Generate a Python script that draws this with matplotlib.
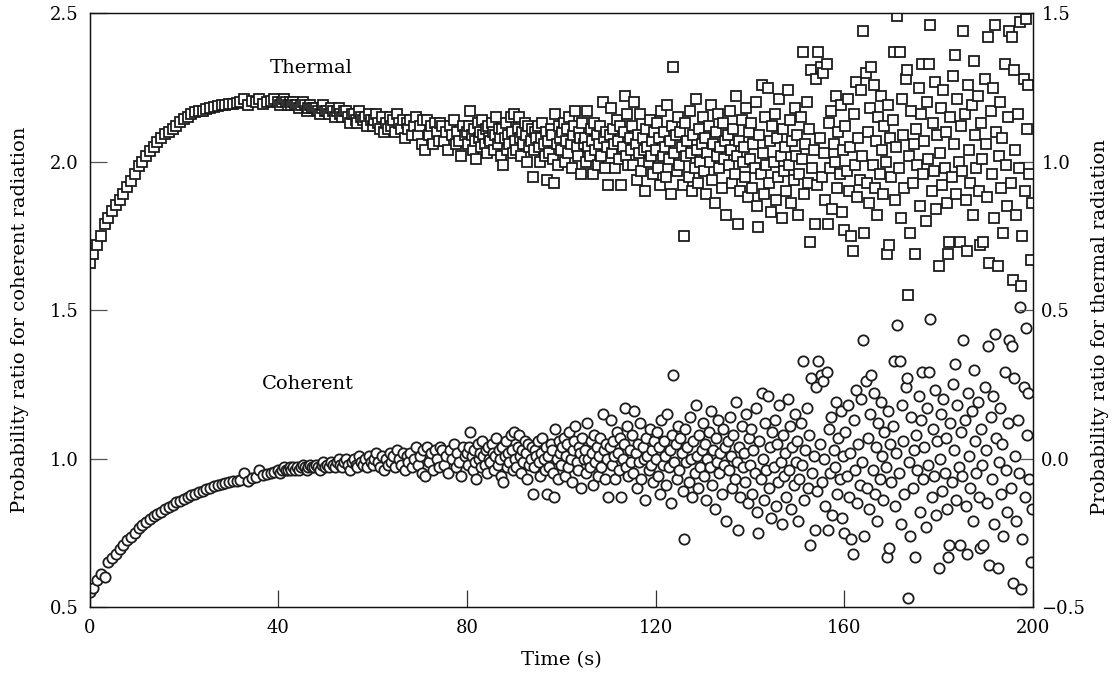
import numpy as np
import matplotlib
matplotlib.use("Agg")
import matplotlib.pyplot as plt

plt.rcParams['font.family'] = ['DejaVu Serif']

# ---- data ----
# coherent ratio, left axis; thermal ratio, right axis
# early part: 0 - 39.2 s, every 0.8 s
coh_a = [0.55, 0.565, 0.59, 0.61, 0.60, 0.65, 0.665, 0.68, 0.695, 0.71,
         0.725, 0.735, 0.75, 0.765, 0.775, 0.785, 0.795, 0.805, 0.812, 0.82,
         0.83, 0.838, 0.845, 0.852, 0.858, 0.865, 0.87, 0.876, 0.882, 0.887,
         0.892, 0.897, 0.902, 0.906, 0.912, 0.915, 0.918, 0.921, 0.924, 0.926,
         0.928, 0.95, 0.925, 0.935, 0.938, 0.96, 0.945, 0.948, 0.951, 0.955]
thr_a = [0.66, 0.69, 0.72, 0.75, 0.79, 0.81, 0.835, 0.855, 0.87, 0.89,
         0.915, 0.935, 0.96, 0.985, 1.0, 1.02, 1.035, 1.05, 1.065, 1.08,
         1.095, 1.10, 1.11, 1.12, 1.135, 1.145, 1.15, 1.16, 1.167, 1.17,
         1.172, 1.176, 1.18, 1.184, 1.187, 1.19, 1.192, 1.194, 1.196, 1.198,
         1.20, 1.212, 1.19, 1.205, 1.20, 1.21, 1.195, 1.20, 1.205, 1.21]

# middle part: 40 - 79.6 s, every 0.4 s
coh_b = [0.96, 0.95, 0.96, 0.97, 0.96, 0.96, 0.97, 0.96, 0.97, 0.96,
         0.97, 0.96, 0.97, 0.98, 0.97, 0.96, 0.97, 0.98, 0.97, 0.97,
         0.98, 0.97, 0.96, 0.98, 0.99, 0.97, 0.98, 0.97, 0.99, 0.98,
         0.97, 0.99, 1.00, 0.98, 0.97, 0.99, 1.00, 0.98, 0.96, 0.99,
         1.00, 0.98, 0.97, 1.01, 0.99, 0.98, 1.00, 0.97, 1.01, 0.99,
         0.98, 1.00, 1.02, 0.99, 0.97, 1.01, 0.96, 1.00, 0.98, 1.02,
         0.99, 1.01, 0.97, 1.03, 1.00, 0.98, 1.02, 0.96, 1.01, 0.99,
         1.02, 0.97, 1.00, 1.04, 0.98, 1.01, 0.95, 1.03, 0.94, 1.04,
         0.99, 1.02, 0.96, 1.03, 1.00, 0.97, 1.04, 1.03, 0.98, 1.01,
         0.95, 1.03, 1.00, 1.05, 0.97, 1.02, 0.99, 0.94, 1.04, 1.01]
thr_b = [1.20, 1.19, 1.20, 1.21, 1.20, 1.19, 1.20, 1.19, 1.20, 1.19,
         1.19, 1.18, 1.19, 1.20, 1.19, 1.17, 1.18, 1.19, 1.18, 1.18,
         1.18, 1.17, 1.16, 1.18, 1.19, 1.17, 1.17, 1.16, 1.18, 1.17,
         1.15, 1.17, 1.18, 1.16, 1.15, 1.17, 1.17, 1.15, 1.13, 1.16,
         1.16, 1.14, 1.13, 1.17, 1.15, 1.14, 1.15, 1.12, 1.16, 1.14,
         1.12, 1.14, 1.16, 1.13, 1.11, 1.15, 1.10, 1.13, 1.11, 1.15,
         1.12, 1.14, 1.10, 1.16, 1.13, 1.11, 1.14, 1.08, 1.13, 1.11,
         1.14, 1.09, 1.12, 1.15, 1.09, 1.12, 1.06, 1.14, 1.04, 1.14,
         1.09, 1.12, 1.06, 1.13, 1.10, 1.07, 1.13, 1.12, 1.07, 1.10,
         1.04, 1.12, 1.09, 1.14, 1.06, 1.10, 1.07, 1.02, 1.12, 1.09]

# late part: 80 - 199.75 s, every 0.25 s (one row = 5 s)
coh_c = [1.02, 0.98, 1.04, 1.09, 1.01, 0.96, 1.03, 0.99, 0.93, 1.05, 1.00, 1.02, 0.97, 1.06, 1.01, 0.98, 1.03, 0.95, 1.04, 1.00,
         0.99, 1.05, 1.02, 0.96, 1.01, 1.07, 0.98, 1.03, 1.00, 0.94, 1.04, 0.92, 1.01, 1.06, 0.97, 1.02, 0.99, 1.08, 1.03, 0.96,
         1.09, 1.00, 0.97, 1.04, 1.08, 1.01, 0.95, 1.03, 0.99, 1.06, 1.02, 0.93, 1.05, 0.98, 1.00, 1.04, 0.88, 0.97, 1.03, 1.01,
         1.06, 0.99, 0.94, 1.02, 1.07, 1.00, 0.96, 1.04, 0.88, 1.01, 0.97, 1.05, 1.03, 0.95, 0.87, 1.10, 1.00, 0.93, 1.06, 1.02,
         0.98, 1.04, 1.07, 0.94, 1.01, 1.05, 0.97, 1.09, 1.00, 0.92, 1.03, 1.06, 1.11, 0.99, 0.96, 1.04, 1.02, 0.90, 1.07, 1.00,
         1.03, 0.95, 1.12, 1.00, 0.97, 1.06, 1.02, 0.91, 1.08, 0.99, 1.04, 0.94, 1.01, 1.07, 0.97, 1.15, 1.03, 0.93, 1.05, 1.00,
         0.87, 1.04, 1.13, 0.98, 1.06, 1.01, 0.93, 1.09, 1.02, 0.96, 1.07, 0.87, 1.00, 1.05, 1.17, 0.97, 1.11, 0.94, 1.03, 0.99,
         1.08, 0.95, 1.16, 1.02, 0.90, 1.05, 0.99, 1.12, 0.93, 1.04, 1.00, 0.86, 1.07, 1.01, 0.96, 1.10, 0.98, 1.03, 0.92, 1.06,
         1.00, 1.09, 0.94, 1.04, 0.88, 1.13, 0.98, 1.06, 1.01, 0.91, 1.15, 0.97, 1.03, 0.85, 1.08, 1.28, 0.99, 1.05, 0.93, 1.11,
         0.96, 1.07, 1.02, 0.89, 0.73, 1.10, 0.99, 1.04, 0.92, 1.14, 1.00, 0.87, 1.06, 0.95, 1.18, 1.01, 0.90, 1.08, 0.97, 1.03,
         1.12, 0.94, 1.05, 0.86, 1.00, 1.09, 0.97, 1.16, 0.91, 1.03, 0.83, 1.07, 0.99, 1.13, 0.95, 1.02, 0.88, 1.10, 0.98, 1.04,
         0.79, 1.06, 0.96, 1.14, 1.01, 0.90, 1.08, 0.93, 1.19, 0.99, 0.76, 1.04, 0.87, 1.11, 0.97, 1.02, 0.92, 1.15, 0.85, 1.07,
         0.98, 1.10, 0.88, 1.03, 0.95, 1.17, 0.82, 0.75, 1.06, 0.93, 1.22, 1.00, 0.86, 1.12, 0.96, 1.21, 0.90, 1.04, 0.80, 1.09,
         0.97, 1.13, 0.84, 1.05, 0.92, 1.18, 0.99, 0.78, 1.08, 0.94, 1.02, 0.87, 1.20, 0.96, 1.11, 0.83, 1.04, 0.91, 1.15, 0.99,
         1.06, 0.79, 0.93, 1.12, 0.98, 1.33, 0.86, 1.03, 1.17, 0.90, 1.08, 0.71, 1.27, 0.95, 1.01, 0.76, 1.24, 0.89, 1.33, 1.05,
         1.28, 0.92, 1.26, 1.00, 0.84, 1.29, 0.76, 1.10, 0.95, 1.14, 0.81, 1.03, 0.97, 1.19, 0.88, 1.07, 0.93, 1.16, 0.80, 1.01,
         0.75, 1.09, 0.94, 1.18, 0.87, 1.02, 0.73, 0.68, 1.13, 0.96, 1.23, 0.85, 1.05, 0.91, 1.20, 0.99, 1.40, 0.74, 1.26, 0.90,
         1.07, 0.83, 1.15, 1.28, 0.96, 1.22, 0.88, 1.04, 0.79, 1.12, 0.93, 1.19, 1.01, 0.86, 1.09, 0.97, 0.67, 1.16, 0.70, 1.05,
         0.92, 1.11, 1.33, 0.84, 1.02, 1.45, 0.95, 1.33, 0.78, 1.18, 1.06, 0.88, 1.24, 1.27, 0.53, 0.99, 0.74, 1.14, 0.90, 1.03,
         0.67, 1.08, 0.96, 1.21, 0.82, 1.13, 1.29, 0.93, 1.04, 0.77, 1.17, 0.98, 1.29, 1.47, 0.87, 1.10, 0.94, 1.23, 0.81, 1.06,
         0.63, 1.00, 1.15, 0.89, 1.20, 0.95, 1.07, 0.83, 0.67, 0.71, 1.12, 0.92, 1.25, 1.03, 1.32, 0.86, 1.18, 0.97, 0.71, 1.09,
         0.94, 1.40, 1.13, 0.84, 0.68, 1.22, 1.01, 0.90, 1.16, 0.79, 1.30, 1.06, 0.95, 1.19, 0.87, 0.70, 1.10, 0.98, 0.71, 1.24,
         1.03, 0.85, 1.38, 0.64, 1.14, 0.93, 1.21, 0.78, 1.42, 1.07, 0.63, 0.99, 1.17, 0.88, 1.05, 0.74, 1.29, 0.96, 0.82, 1.12,
         1.40, 0.90, 1.38, 0.58, 1.27, 1.01, 0.79, 1.13, 0.95, 1.51, 0.56, 0.73, 1.24, 0.87, 1.44, 1.08, 1.22, 0.93, 0.65, 0.83]
thr_c = [1.10, 1.06, 1.12, 1.17, 1.09, 1.04, 1.11, 1.07, 1.01, 1.13, 1.08, 1.10, 1.05, 1.14, 1.09, 1.06, 1.11, 1.03, 1.12, 1.08,
         1.07, 1.13, 1.10, 1.04, 1.09, 1.15, 1.06, 1.11, 1.08, 1.02, 1.11, 0.99, 1.08, 1.13, 1.04, 1.09, 1.06, 1.15, 1.10, 1.03,
         1.16, 1.07, 1.04, 1.11, 1.15, 1.08, 1.02, 1.10, 1.06, 1.13, 1.09, 1.00, 1.12, 1.05, 1.07, 1.11, 0.95, 1.04, 1.10, 1.08,
         1.12, 1.05, 1.00, 1.08, 1.13, 1.06, 1.02, 1.10, 0.94, 1.07, 1.03, 1.11, 1.09, 1.01, 0.93, 1.16, 1.06, 0.99, 1.12, 1.08,
         1.04, 1.10, 1.13, 1.00, 1.07, 1.11, 1.03, 1.15, 1.06, 0.98, 1.09, 1.12, 1.17, 1.05, 1.02, 1.10, 1.08, 0.96, 1.13, 1.06,
         1.08, 1.00, 1.17, 1.05, 1.02, 1.11, 1.07, 0.96, 1.13, 1.04, 1.09, 0.99, 1.06, 1.12, 1.02, 1.20, 1.08, 0.98, 1.10, 1.05,
         0.92, 1.09, 1.18, 1.03, 1.11, 1.06, 0.98, 1.14, 1.07, 1.01, 1.12, 0.92, 1.05, 1.10, 1.22, 1.02, 1.16, 0.99, 1.08, 1.04,
         1.12, 0.99, 1.20, 1.06, 0.94, 1.09, 1.03, 1.16, 0.97, 1.08, 1.04, 0.90, 1.11, 1.05, 1.00, 1.14, 1.02, 1.07, 0.96, 1.10,
         1.04, 1.13, 0.98, 1.08, 0.92, 1.17, 1.02, 1.10, 1.05, 0.95, 1.19, 1.01, 1.07, 0.89, 1.12, 1.32, 1.03, 1.09, 0.97, 1.15,
         0.99, 1.10, 1.05, 0.92, 0.75, 1.13, 1.02, 1.07, 0.95, 1.17, 1.03, 0.90, 1.09, 0.98, 1.21, 1.04, 0.93, 1.11, 1.00, 1.06,
         1.15, 0.97, 1.08, 0.89, 1.03, 1.12, 1.00, 1.19, 0.94, 1.06, 0.86, 1.10, 1.02, 1.16, 0.98, 1.05, 0.91, 1.13, 1.01, 1.07,
         0.82, 1.09, 0.99, 1.17, 1.04, 0.93, 1.11, 0.96, 1.22, 1.02, 0.79, 1.07, 0.90, 1.14, 1.00, 1.05, 0.95, 1.18, 0.88, 1.10,
         1.01, 1.13, 0.91, 1.06, 0.98, 1.20, 0.85, 0.78, 1.09, 0.96, 1.26, 1.03, 0.89, 1.15, 0.99, 1.25, 0.93, 1.07, 0.83, 1.12,
         1.00, 1.16, 0.87, 1.08, 0.95, 1.21, 1.02, 0.81, 1.11, 0.97, 1.05, 0.90, 1.24, 0.99, 1.14, 0.86, 1.07, 0.94, 1.18, 1.02,
         1.09, 0.82, 0.96, 1.15, 1.01, 1.37, 0.89, 1.06, 1.20, 0.93, 1.11, 0.73, 1.31, 0.98, 1.04, 0.79, 1.28, 0.92, 1.37, 1.08,
         1.32, 0.95, 1.30, 1.03, 0.87, 1.33, 0.79, 1.13, 0.98, 1.17, 0.84, 1.06, 1.00, 1.22, 0.91, 1.10, 0.96, 1.19, 0.83, 1.04,
         0.77, 1.12, 0.97, 1.21, 0.90, 1.05, 0.75, 0.70, 1.16, 0.99, 1.27, 0.88, 1.08, 0.94, 1.24, 1.02, 1.44, 0.76, 1.30, 0.93,
         1.10, 0.86, 1.18, 1.32, 0.99, 1.26, 0.91, 1.07, 0.82, 1.15, 0.96, 1.22, 1.04, 0.89, 1.12, 1.00, 0.69, 1.19, 0.72, 1.08,
         0.95, 1.14, 1.37, 0.87, 1.05, 1.49, 0.98, 1.37, 0.81, 1.21, 1.09, 0.91, 1.28, 1.31, 0.55, 1.02, 0.76, 1.17, 0.93, 1.06,
         0.69, 1.11, 0.99, 1.25, 0.85, 1.16, 1.33, 0.96, 1.07, 0.80, 1.20, 1.01, 1.33, 1.46, 0.90, 1.13, 0.97, 1.27, 0.84, 1.09,
         0.65, 1.03, 1.18, 0.92, 1.24, 0.98, 1.10, 0.86, 0.69, 0.73, 1.15, 0.95, 1.29, 1.06, 1.36, 0.89, 1.21, 1.00, 0.73, 1.12,
         0.97, 1.44, 1.16, 0.87, 0.70, 1.26, 1.04, 0.93, 1.19, 0.82, 1.34, 1.09, 0.98, 1.22, 0.90, 0.72, 1.13, 1.01, 0.73, 1.28,
         1.06, 0.88, 1.42, 0.66, 1.17, 0.96, 1.25, 0.81, 1.46, 1.10, 0.65, 1.02, 1.20, 0.91, 1.08, 0.76, 1.33, 0.99, 0.85, 1.15,
         1.44, 0.93, 1.42, 0.60, 1.31, 1.04, 0.82, 1.16, 0.98, 1.47, 0.58, 0.75, 1.28, 0.90, 1.48, 1.11, 1.26, 0.96, 0.67, 0.86]

# sampling times
t_a = np.linspace(0, 39.2, len(coh_a))
t_b = np.linspace(40, 79.6, len(coh_b))
t_c = np.linspace(80, 199.75, len(coh_c))
t = np.concatenate([t_a, t_b, t_c])
coherent = np.array(coh_a + coh_b + coh_c)
thermal = np.array(thr_a + thr_b + thr_c)

x_ticks = [0, 40, 80, 120, 160, 200]
y_ticks_left = [0.5, 1.0, 1.5, 2.0, 2.5]
y_ticks_right = [-0.5, 0.0, 0.5, 1.0, 1.5]

# ---- plot ----
fig = plt.figure(figsize=(11.16, 6.76), dpi=100)
ax = fig.add_axes([0.0802, 0.1021, 0.8454, 0.8782])
ax2 = ax.twinx()

mk = dict(linestyle="none", markerfacecolor="white", markeredgecolor="#1c1c1c",
          markersize=7.4, markeredgewidth=1.3)
ax.plot(t, coherent, marker="o", **mk)
ax2.plot(t, thermal, marker="s", **mk)

ax.set_xlim(0, 200)
ax.set_ylim(0.5, 2.5)
ax2.set_ylim(-0.5, 1.5)

ax.set_xticks(x_ticks)
ax.set_yticks(y_ticks_left)
ax.set_yticklabels(["%.1f" % v for v in y_ticks_left])
ax2.set_yticks(y_ticks_right)
ax2.set_yticklabels([("%.1f" % v).replace("-", "\u2212") for v in y_ticks_right])

ax.tick_params(axis="y", direction="in", length=12, width=0.9, color="#555555",
               labelsize=13, pad=8, right=False)
ax.tick_params(axis="x", direction="in", length=12, width=0.9, color="#333333",
               labelsize=13, pad=9, top=False)
ax2.tick_params(axis="y", direction="in", length=10, width=0.9, color="#555555",
                labelsize=13, pad=6)

for a in (ax, ax2):
    for s in a.spines.values():
        s.set_linewidth(0.9)
        s.set_color("#111111")

ax.set_xlabel("Time (s)", fontsize=14)
ax.xaxis.set_label_coords(0.5, -0.075)
ax.set_ylabel("Probability ratio for coherent radiation", fontsize=14)
ax.yaxis.set_label_coords(-0.064, 0.483)
ax2.set_ylabel("Probability ratio for thermal radiation", fontsize=14)
ax2.yaxis.set_label_coords(1.062, 0.472)

ax.text(47, 2.316, "Thermal", fontsize=14, ha="center", va="center")
ax.text(46.3, 1.251, "Coherent", fontsize=14, ha="center", va="center")

fig.savefig("out.png", dpi=100)
